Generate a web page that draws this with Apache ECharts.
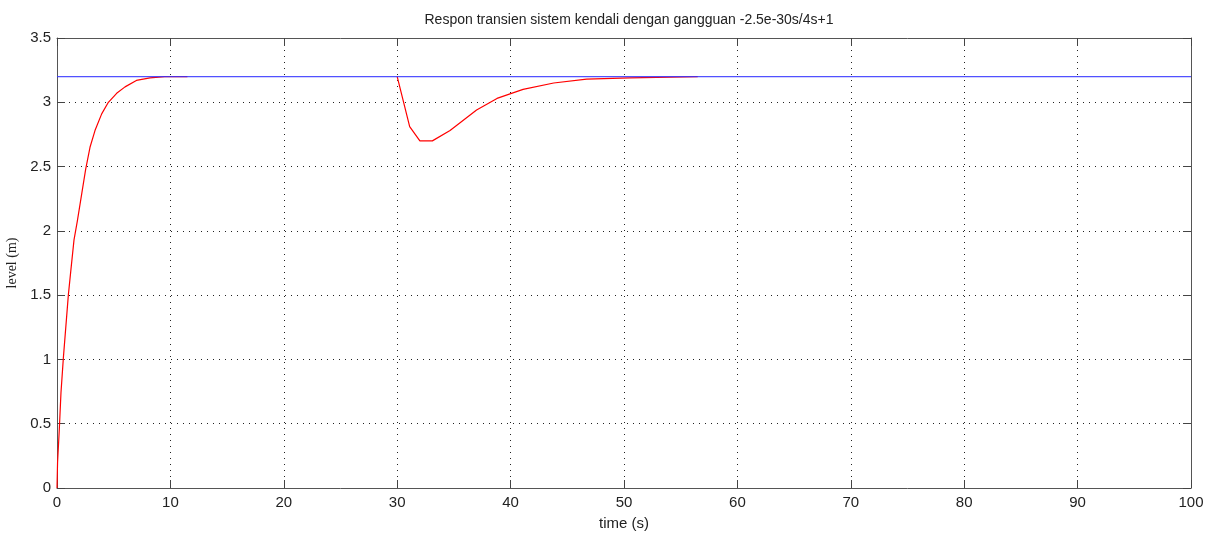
<!DOCTYPE html>
<html>
<head>
<meta charset="utf-8">
<script src="https://cdn.jsdelivr.net/npm/echarts@6/dist/echarts.min.js"></script>
<style>
    html, body { margin: 0; padding: 0; background: #fff; }
    #chart { width: 1215px; height: 533px; }
</style>
</head>
<body>
<div id="chart"></div>
<script>
// step response (0..11.5 s)
var timeRise = [0, 0.05, 0.2, 0.35, 0.56, 1.0, 1.23, 1.5, 1.8, 2.2, 2.53, 2.91, 3.35, 3.94, 4.53, 5.26, 6.0, 7.0, 8.2, 9.5, 11.5];
var levelRise = [0, 0.2, 0.45, 0.74, 1.01, 1.5, 1.7, 1.93, 2.08, 2.3, 2.48, 2.65, 2.78, 2.91, 3.0, 3.07, 3.12, 3.17, 3.19, 3.2, 3.2];

// disturbance response (30..56.5 s)
var timeDip = [30.0, 31.1, 32.0, 33.1, 34.66, 37.0, 38.8, 41.1, 43.8, 46.7, 50.5, 56.5];
var levelDip = [3.2, 2.81, 2.70, 2.70, 2.78, 2.94, 3.03, 3.10, 3.15, 3.18, 3.19, 3.2];

// setpoint
var setpointTime = [0, 100];
var setpointLevel = [3.2, 3.2];

function pairs(xs, ys) {
    return xs.map(function (x, i) { return [x, ys[i]]; });
}

var axisFont = { color: '#222', fontSize: 15, fontFamily: 'Liberation Sans, Arial, sans-serif' };
var frameLine = { show: true, onZero: false, lineStyle: { color: '#555', width: 1 } };
var innerTick = { show: true, inside: true, length: 8, lineStyle: { color: '#444' } };
var dotted = { show: true, lineStyle: { color: '#222', type: [1, 5], width: 1 } };

var myChart = echarts.init(document.getElementById('chart'));
var option = {
    animation: false,
    backgroundColor: '#fff',
    title: {
        text: 'Respon transien sistem kendali dengan gangguan -2.5e-30s/4s+1',
        left: 624,
        top: 8,
        textAlign: 'center',
        textStyle: { fontSize: 14, fontWeight: 'normal', color: '#222', fontFamily: 'Liberation Sans, Arial, sans-serif' }
    },
    grid: { left: 57, right: 24, top: 38, bottom: 45, outerBoundsMode: 'none', containLabel: false },
    xAxis: [{
        type: 'value', min: 0, max: 100, interval: 10,
        name: 'time (s)', nameLocation: 'middle', nameGap: 28,
        nameTextStyle: axisFont,
        axisLine: frameLine,
        axisTick: innerTick,
        axisLabel: Object.assign({ margin: 7 }, axisFont),
        splitLine: dotted
    }, {
        type: 'value', min: 0, max: 100, interval: 10, position: 'top',
        axisLine: frameLine,
        axisTick: innerTick,
        axisLabel: { show: false },
        splitLine: { show: false }
    }],
    yAxis: [{
        type: 'value', min: 0, max: 3.5, interval: 0.5,
        name: 'level (m)', nameLocation: 'middle', nameGap: 28,
        nameTextStyle: { color: '#222', fontSize: 14, fontFamily: 'Liberation Serif, Times New Roman, serif' },
        axisLine: frameLine,
        axisTick: innerTick,
        axisLabel: Object.assign({ margin: 6 }, axisFont),
        splitLine: dotted
    }, {
        type: 'value', min: 0, max: 3.5, interval: 0.5, position: 'right',
        axisLine: frameLine,
        axisTick: innerTick,
        axisLabel: { show: false },
        splitLine: { show: false }
    }],
    series: [{
        type: 'line', name: 'respon', showSymbol: false,
        data: pairs(timeRise, levelRise),
        lineStyle: { color: '#ff0000', width: 1.2 }
    }, {
        type: 'line', name: 'gangguan', showSymbol: false,
        data: pairs(timeDip, levelDip),
        lineStyle: { color: '#ff0000', width: 1.2 }
    }, {
        type: 'line', name: 'setpoint', showSymbol: false,
        data: pairs(setpointTime, setpointLevel),
        lineStyle: { color: '#3333ff', width: 1.2, opacity: 0.85 }
    }]
};
myChart.setOption(option);
</script>
</body>
</html>
